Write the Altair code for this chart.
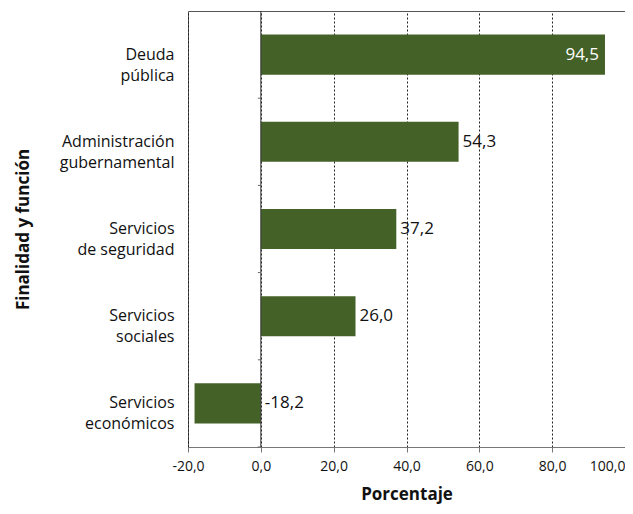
import altair as alt
import pandas as pd

categories = ["Deuda|pública", "Administración|gubernamental", "Servicios|de seguridad",
              "Servicios|sociales", "Servicios|económicos"]
values = [94.5, 54.3, 37.2, 26.0, -18.2]
x_ticks = [-20, 0, 20, 40, 60, 80, 100]

df = pd.DataFrame({"cat": categories, "val": values})
df["lbl"] = df["val"].map(lambda v: f"{v:.1f}".replace(".", ","))
inside = df["val"] > 90
df_in = df[inside]
df_out = df[~inside].copy()
df_out["pos"] = df_out["val"].clip(lower=0)

FONT = "Open Sans"
GREEN = "#446127"
W = 437
H = 436
PI = 0.54
PO = 0.27
STEP = H / (len(categories) - PI + 2 * PO)

y_scale = alt.Scale(paddingInner=PI, paddingOuter=PO)
y_enc = alt.Y("cat:N", sort=categories, scale=y_scale,
              axis=alt.Axis(title="Finalidad y función", labelExpr="split(datum.label, '|')",
                            labelLineHeight=21, labelFontSize=16, labelFont=FONT,
                            labelColor="#111", ticks=False, domain=False,
                            labelPadding=14, titleFont=FONT, titleFontSize=17,
                            titleFontWeight="bold", titleColor="#111", titlePadding=27))
x_scale = alt.Scale(domain=[-20, 100], nice=False)
x_axis = alt.Axis(title="Porcentaje", values=x_ticks,
                  labelExpr="replace(replace(format(datum.value, '.1f'), '.', ','), '\u2212', '-')",
                  labelAlign=alt.condition("datum.value == 100", alt.value("right"), alt.value("center")),
                  labelFont=FONT, labelFontSize=14, labelColor="#111",
                  grid=True, gridDash=[2, 2], gridColor="#222", gridWidth=1,
                  domainColor="#777", tickColor="#777", tickSize=5,
                  labelPadding=7, titleFont=FONT, titleFontSize=17,
                  titleFontWeight="bold", titleColor="#111", titlePadding=13)

bars = alt.Chart(df).mark_bar(color=GREEN).encode(
    x=alt.X("val:Q", scale=x_scale, axis=x_axis), y=y_enc)

zero = alt.Chart(pd.DataFrame({"z": [0]})).mark_rule(color="#333", strokeWidth=1).encode(
    x=alt.X("z:Q", scale=x_scale))

cat_ticks = alt.Chart(df).mark_rule(color="#666", strokeWidth=1, x2Offset=-3,
                                    yOffset=STEP * PI / 2).encode(
    x=alt.datum(0, scale=x_scale), x2=alt.datum(0),
    y=alt.Y("cat:N", sort=categories, scale=y_scale, bandPosition=1))

txt_out = alt.Chart(df_out).mark_text(align="left", dx=4, font=FONT, fontSize=17,
                                      color="#111").encode(
    x=alt.X("pos:Q", scale=x_scale), y=alt.Y("cat:N", sort=categories), text="lbl:N")
txt_in = alt.Chart(df_in).mark_text(align="right", dx=-6, font=FONT, fontSize=17,
                                    color="white").encode(
    x=alt.X("val:Q", scale=x_scale), y=alt.Y("cat:N", sort=categories), text="lbl:N")

chart = alt.layer(bars, zero, cat_ticks, txt_out, txt_in).properties(
    width=W, height=H,
    autosize=alt.AutoSizeParams(type="none"),
    padding={"left": 180, "top": 3, "right": 0, "bottom": 59},
).configure_view(stroke="#555", strokeWidth=1)

chart.save("out.html", embed_options={"renderer": "svg", "actions": False})
